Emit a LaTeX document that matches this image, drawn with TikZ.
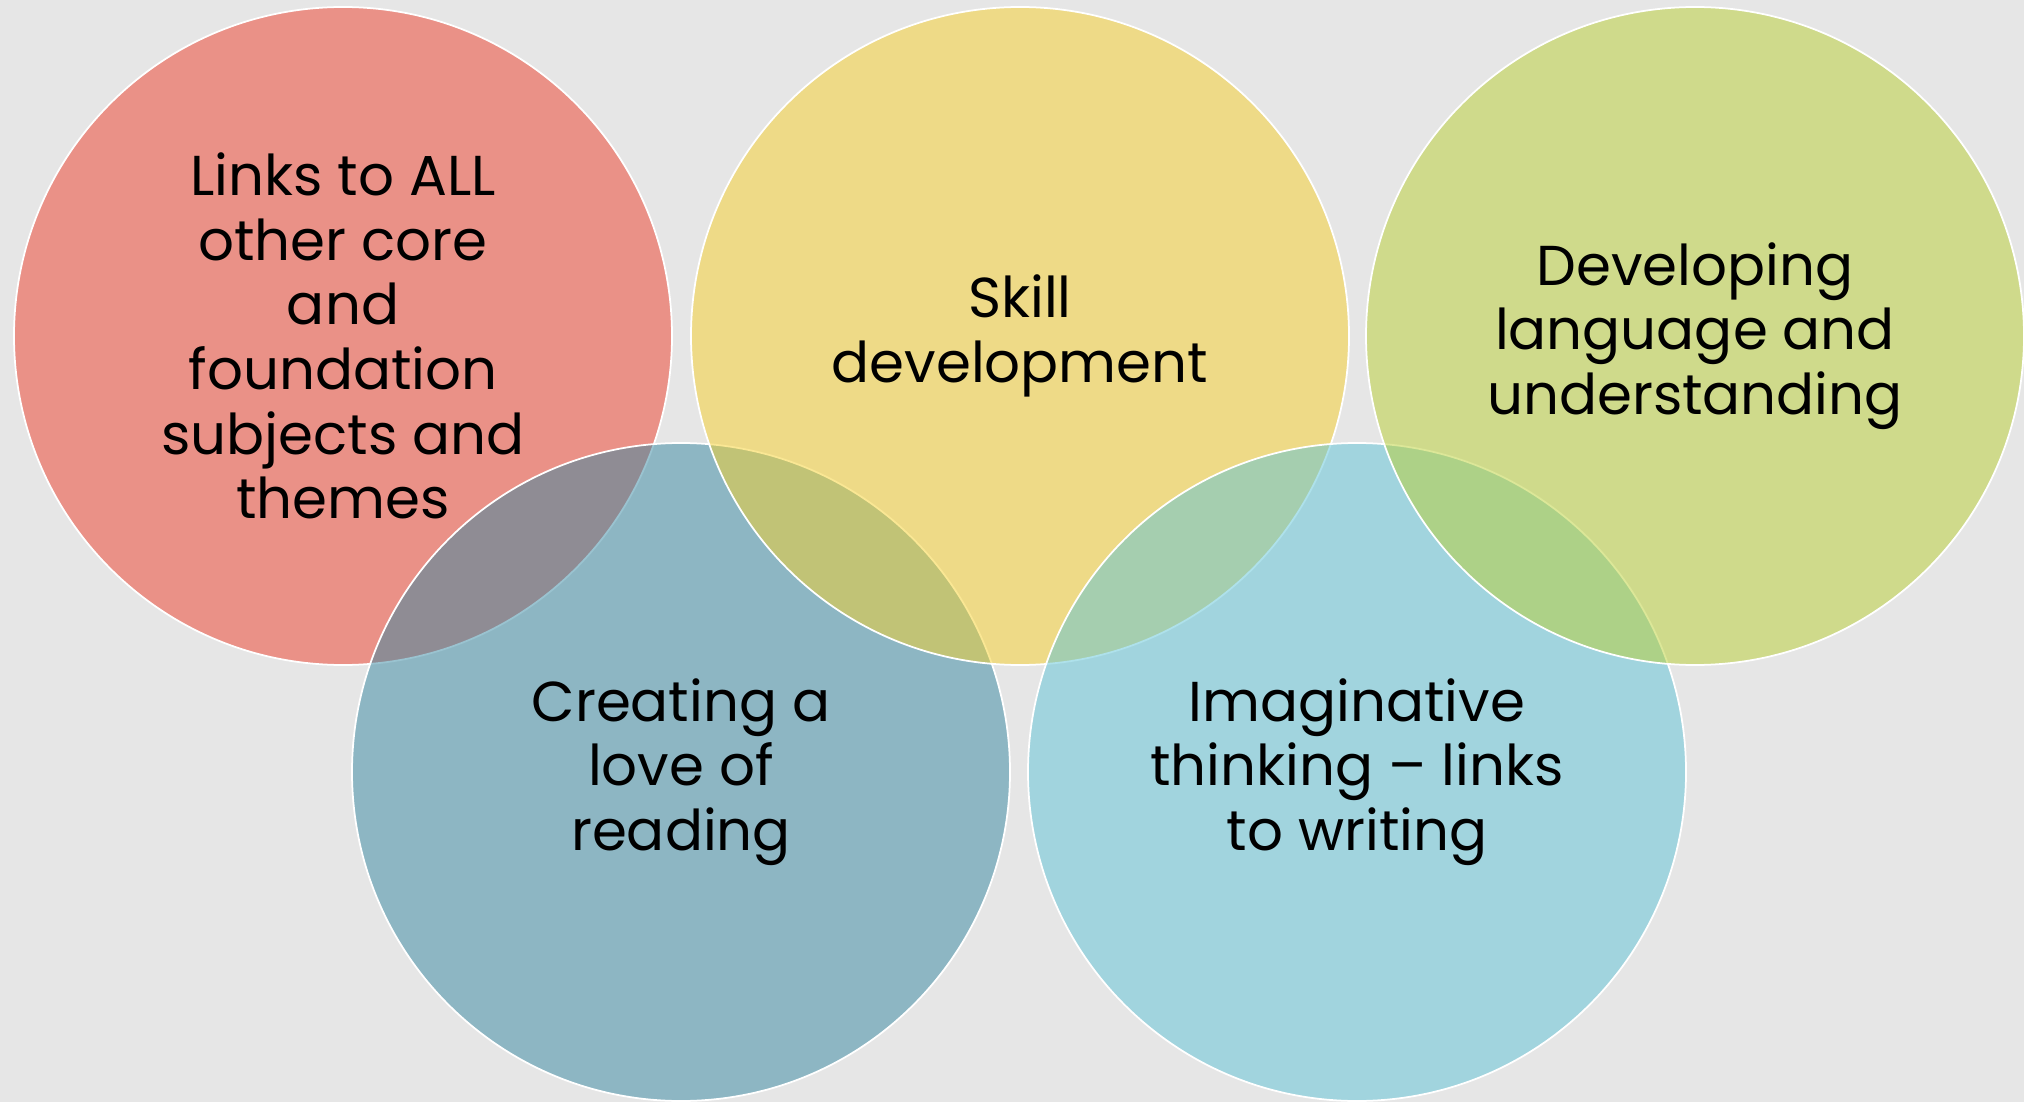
\documentclass[tikz,border=0pt]{standalone}
\usepackage{fontspec}
\setmainfont{Poppins}
\usepackage{tikz}
\definecolor{bg}{RGB}{230,230,230}
\definecolor{redbase}{RGB}{238,62,42}
\definecolor{yellowbase}{RGB}{246,208,42}
\definecolor{greenbase}{RGB}{186,208,50}
\definecolor{tealbase}{RGB}{54,136,162}
\definecolor{skybase}{RGB}{94,196,216}
\tikzstyle{bubble} = [circle, minimum size=6.58cm, inner sep=0pt, draw=white, line width=0.5pt, fill opacity=0.5, text opacity=1, align=center, font=\fontsize{16}{18.4}\selectfont]

\begin{document}
\begin{tikzpicture}
        \useasboundingbox (0,0) rectangle (20.24,11.02);
        \fill [bg] (0,0) rectangle (20.24,11.02);
        \node (links) [bubble, fill=redbase] at (3.43,7.66) {Links to ALL\\other core\\and\\foundation\\subjects and\\themes};
        \node (love) [bubble, fill=tealbase] at (6.81,3.30) {Creating a\\love of\\reading};
        \node (skill) [bubble, fill=yellowbase] at (10.20,7.66) {Skill\\development};
        \node (imagine) [bubble, fill=skybase] at (13.57,3.30) {Imaginative\\thinking -- links\\to writing};
        \node (language) [bubble, fill=greenbase] at (16.95,7.66) {Developing\\language and\\understanding};
    \end{tikzpicture}
\end{document}
